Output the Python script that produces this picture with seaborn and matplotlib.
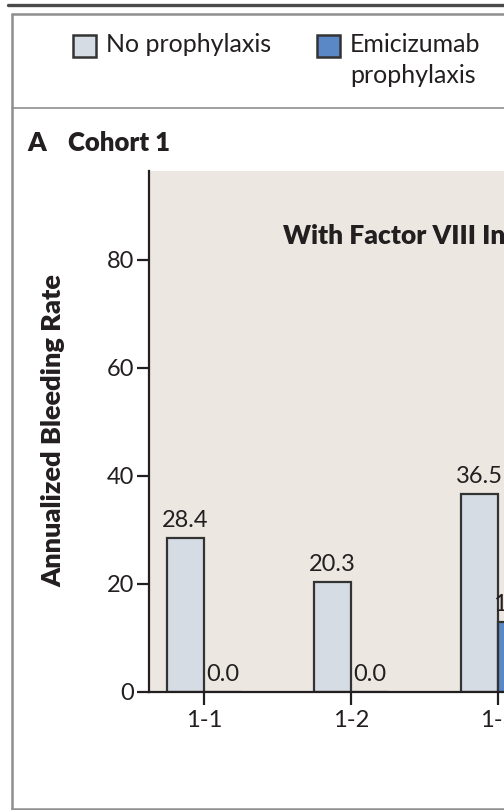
import matplotlib
matplotlib.use("Agg")
import matplotlib.pyplot as plt
from matplotlib.lines import Line2D
from matplotlib.patches import Rectangle
import seaborn as sns
import pandas as pd

# Annualized bleeding rate per patient, cohort 1
patients = ["1-1", "1-2", "1-3"]
no_prophylaxis = [28.4, 20.3, 36.5]
emicizumab = [0.0, 0.0, 12.8]
groups = ["No prophylaxis", "Emicizumab\nprophylaxis"]
yticks = [0, 20, 40, 60, 80]

df = pd.DataFrame({
    "patient": patients * 2,
    "abr": no_prophylaxis + emicizumab,
    "group": [groups[0]] * len(patients) + [groups[1]] * len(patients),
})

sns.set_theme(style="white")
plt.rcParams["font.family"] = ["Lato", "DejaVu Sans"]

INK = "#231F20"
EDGE = "#333333"
FRAME = "#8F8F8F"
PANEL_BG = "#ECE8E1"
colors = ["#D5DCE4", "#5A87C5"]

W, H = 504, 810
fig = plt.figure(figsize=(W / 100, H / 100), dpi=100)
fig.patch.set_facecolor("white")


def fx(px):
    return px / W


def fy(py):
    return 1 - py / H


# plot area: category spacing 147 px, y scale 5.4 px per unit
unit = 147.0
xmin, xmax = -0.374, 2.6
left_px, top_px, bottom_px = 149, 171, 691.5
right_px = left_px + (xmax - xmin) * unit
ax = fig.add_axes([fx(left_px), fy(bottom_px),
                   (right_px - left_px) / W, (bottom_px - top_px) / H])
ax.set_facecolor(PANEL_BG)

sns.barplot(data=df, x="patient", y="abr", hue="group", hue_order=groups,
            palette=colors, saturation=1, width=0.5, edgecolor=EDGE,
            linewidth=1.6, legend=False, ax=ax)

for cont in ax.containers:
    ax.bar_label(cont, fmt="%.1f", padding=5, fontsize=17, color=INK)

ax.set_xlim(xmin, xmax)
ax.set_ylim(0, (bottom_px - top_px) / 5.4)
ax.set_yticks(yticks)
ax.set_xlabel("")
ax.set_ylabel("")
for s in ["top", "right"]:
    ax.spines[s].set_visible(False)
for s in ["left", "bottom"]:
    ax.spines[s].set_color(INK)
    ax.spines[s].set_linewidth(1.6)
ax.tick_params(axis="y", direction="out", length=9, width=1.6, pad=1.5,
               colors=INK, labelsize=17, left=True)
ax.tick_params(axis="x", direction="out", length=9, width=1.6, pad=4.5,
               colors=INK, labelsize=17, bottom=True)

# panel texts
fig.text(fx(53), fy(431), "Annualized Bleeding Rate", rotation=90,
         ha="center", va="center", fontsize=19.5, fontweight="heavy",
         color=INK)
fig.text(fx(283), fy(244), "With Factor VIII Inhibitors", ha="left",
         va="baseline", fontsize=19, fontweight="heavy", color=INK)
fig.text(fx(27), fy(151), "A", ha="left", va="baseline", fontsize=19,
         fontweight="heavy", color=INK)
fig.text(fx(68), fy(151), "Cohort 1", ha="left", va="baseline",
         fontsize=18.5, fontweight="heavy", color=INK)

# legend
for (sx, tx), label, c in zip([(73, 106), (317, 350)], groups, colors):
    fig.add_artist(Rectangle((fx(sx), fy(57)), 23 / W, 22 / H,
                             transform=fig.transFigure, facecolor=c,
                             edgecolor=EDGE, linewidth=1.8))
    fig.text(fx(tx), fy(33), label, ha="left", va="top", fontsize=18,
             color=INK, linespacing=1.42)

# outer frame and rules
def hline(y, x0, x1, color, lw):
    fig.add_artist(Line2D([fx(x0), fx(x1)], [fy(y), fy(y)],
                          transform=fig.transFigure, color=color, lw=lw))

hline(4.5, 8, W, "#4A4A4A", 2.4)
hline(14, 12, W, FRAME, 1.8)
hline(108, 12, W, FRAME, 1.2)
hline(808.5, 12, W, FRAME, 1.8)
fig.add_artist(Line2D([fx(12), fx(12)], [fy(14), fy(808.5)],
                      transform=fig.transFigure, color=FRAME, lw=1.8))

fig.savefig("out.png", dpi=100)
